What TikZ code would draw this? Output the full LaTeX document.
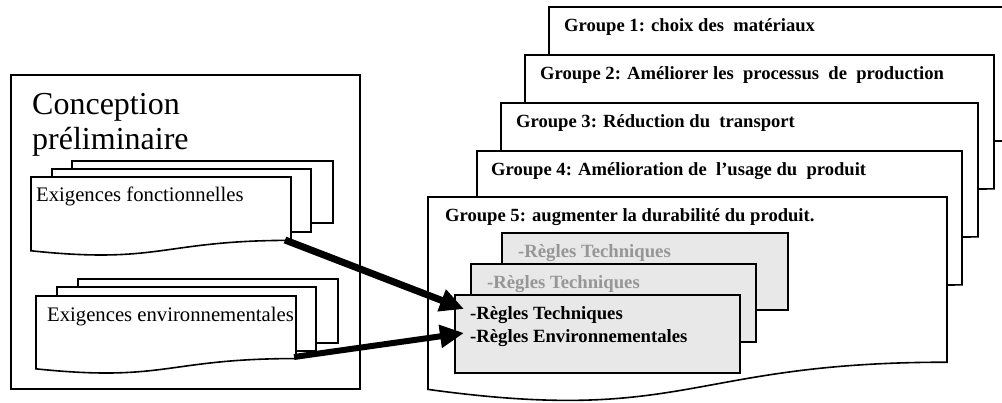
\documentclass[tikz,border=0pt]{standalone}
\usepackage{fontspec}
\setmainfont{Liberation Serif}
\usetikzlibrary{arrows.meta}
\definecolor{greyfill}{RGB}{232,232,232}
\definecolor{greytext}{RGB}{150,150,150}
\newcommand\docpath[4]{(#1,#2) -- ({#1+#3},#2) -- ({#1+#3},{#2+0.802*#4}) .. controls ({#1+0.5*#3},{#2+0.802*#4}) and ({#1+0.5*#3},{#2+1.1075*#4}) .. (#1,{#2+0.934*#4}) -- cycle}
\tikzset{
  outline/.style={draw=black, line width=1.6pt, fill=white, line join=miter},
  greybox/.style={draw=black, line width=1.6pt, fill=greyfill},
  grouptext/.style={anchor=base west, inner sep=0pt, font=\fontsize{18.6}{22}\selectfont\bfseries},
  regletext/.style={anchor=base west, inner sep=0pt, font=\fontsize{18.7}{22}\selectfont\bfseries},
  exitext/.style={anchor=base west, inner sep=0pt, font=\fontsize{20.7}{24}\selectfont},
  titletext/.style={anchor=base west, inner sep=0pt, font=\fontsize{32}{35}\selectfont},
  bigarrow/.style={line width=7pt, -{Triangle[length=24pt,width=22pt]}},
}
\begin{document}
\begin{tikzpicture}[x=1pt,y=-1pt]
\useasboundingbox (0,0) rectangle (1002,403);
\clip (0,0) rectangle (1002,403);
% group boxes, back to front
\draw[outline] \docpath{549}{7}{461}{167};
\node[grouptext] (g1) at (564,32) {Groupe 1: choix des\ \ matériaux};
\draw[outline] \docpath{525}{55}{469}{167};
\node[grouptext] (g2) at (540,80) {Groupe 2: Améliorer les\ \ processus\ \ de\ \ production};
\draw[outline] \docpath{501}{103}{477}{167};
\node[grouptext] (g3) at (516,128) {Groupe 3: Réduction du\ \ transport};
\draw[outline] \docpath{477}{151}{485}{167};
\node[grouptext] (g4) at (491,176) {Groupe 4: Amélioration de\ \ l'usage du\ \ produit};
\draw[outline] \docpath{428}{197}{519}{206};
\node[grouptext] (g5) at (445,222) {Groupe 5: augmenter la durabilité du produit.};
% grey rule boxes
\draw[greybox] (502,233) rectangle (788,310);
\node[regletext, text=greytext] (r3) at (518,258) {-Règles Techniques};
\draw[greybox] (471,264) rectangle (756,342);
\node[regletext, text=greytext] (r2) at (487,289) {-Règles Techniques};
\draw[greybox] (455,295) rectangle (740,373);
\node[regletext] (r1a) at (470,320) {-Règles Techniques};
\node[regletext] (r1b) at (470,343) {-Règles Environnementales};
% left box
\draw[outline] (11,75) rectangle (360,389);
\node[titletext] (t1) at (32,115) {Conception};
\node[titletext] (t2) at (32,150) {préliminaire};
% stack 1
\draw[outline] (72,161) rectangle (333,223);
\draw[outline] (52,169) rectangle (311,232);
\draw[outline] \docpath{31}{177}{260}{79};
\node[exitext] (e1) at (36,202) {Exigences fonctionnelles};
% stack 2
\draw[outline] (78,279) rectangle (338,343);
\draw[outline] (57,287) rectangle (316,351);
\draw[outline] \docpath{36}{296}{260}{78};
\node[exitext] (e2) at (47,322) {Exigences environnementales};
% arrows
\coordinate (a1s) at (285,240);
\coordinate (a1e) at (464,309);
\coordinate (a2s) at (294,357);
\coordinate (a2e) at (464,333);
\draw[bigarrow] (a1s) -- (a1e);
\draw[bigarrow, line width=6pt] (a2s) -- (a2e);
\end{tikzpicture}
\end{document}
